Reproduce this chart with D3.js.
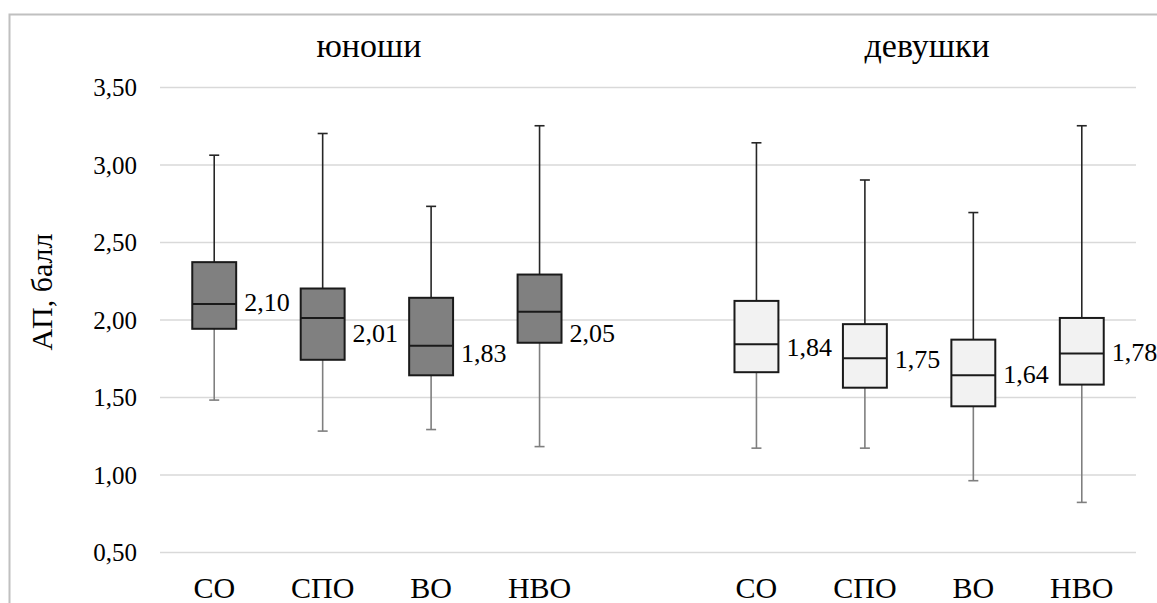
<!doctype html>
<html>
<head>
  <meta charset="utf-8">
  <script src="https://d3js.org/d3.v7.min.js"></script>
</head>
<body style="margin:0">
<script>
  // data
  var groups = ["юноши", "девушки"];
  var levels = ["СО", "СПО", "ВО", "НВО"];
  var yTicks = [0.5, 1.0, 1.5, 2.0, 2.5, 3.0, 3.5];

  var boysMax = [3.06, 3.20, 2.73, 3.25];
  var boysQ3  = [2.37, 2.20, 2.14, 2.29];
  var boysMed = [2.10, 2.01, 1.83, 2.05];
  var boysQ1  = [1.94, 1.74, 1.64, 1.85];
  var boysMin = [1.48, 1.28, 1.29, 1.18];
  var boysLabelAt = [2.11, 1.91, 1.78, 1.91];

  var girlsMax = [3.14, 2.90, 2.69, 3.25];
  var girlsQ3  = [2.12, 1.97, 1.87, 2.01];
  var girlsMed = [1.84, 1.75, 1.64, 1.78];
  var girlsQ1  = [1.66, 1.56, 1.44, 1.58];
  var girlsMin = [1.17, 1.17, 0.96, 0.82];
  var girlsLabelAt = [1.82, 1.745, 1.65, 1.79];

  var fills = ["#808080", "#f2f2f2"];
  var fam = "'Liberation Serif', 'Times New Roman', serif";

  var svg = d3.select("body")
    .append("svg")
    .attr("width", 1157)
    .attr("height", 603)
    .style("font-family", fam);

  // outer frame (right and bottom edges fall outside the picture)
  svg.append("rect")
    .attr("x", 9.5).attr("y", 14.5)
    .attr("width", 1160).attr("height", 600)
    .attr("fill", "none")
    .attr("stroke", "#c0c0c0")
    .attr("stroke-width", 2);

  var rows = [];
  var sets = [
    [boysMax, boysQ3, boysMed, boysQ1, boysMin, boysLabelAt],
    [girlsMax, girlsQ3, girlsMed, girlsQ1, girlsMin, girlsLabelAt]
  ];
  groups.forEach(function(g, gi) {
    levels.forEach(function(l, li) {
      var s = sets[gi];
      rows.push({ key: g + "|" + l, group: gi, level: l,
        max: s[0][li], q3: s[1][li], med: s[2][li], q1: s[3][li], min: s[4][li], lab: s[5][li] });
    });
  });

  // 9 slots: four boxes, an empty gap, four boxes
  var slots = levels.map(function(l) { return groups[0] + "|" + l; })
    .concat(["gap"])
    .concat(levels.map(function(l) { return groups[1] + "|" + l; }));

  var x = d3.scaleBand().domain(slots).range([160, 1136]);
  var y = d3.scaleLinear().domain([0.5, 3.5]).range([552, 87]);

  var ru = d3.formatLocale({ decimal: ",", thousands: " ", grouping: [3], currency: ["", ""] });
  var fmt = ru.format(".2f");

  var grid = svg.append("g")
    .attr("transform", "translate(160,0)")
    .call(d3.axisLeft(y).tickValues(yTicks).tickFormat(fmt)
      .tickSize(-976).tickPadding(23));
  grid.select(".domain").remove();
  grid.attr("font-family", null).attr("font-size", null);
  grid.selectAll("line").attr("stroke", "#d9d9d9").attr("stroke-width", 1.3);
  grid.selectAll("text")
    .style("font-family", fam)
    .style("font-size", "25px")
    .attr("fill", "#000")
    .attr("dy", "0.34em");

  var boxW = x.bandwidth() * 0.405;

  var box = svg.selectAll(".box")
    .data(rows)
    .enter().append("g")
    .attr("transform", function(d) { return "translate(" + (x(d.key) + x.bandwidth() / 2) + ",0)"; });

  // upper whisker
  box.append("line")
    .attr("x1", 0).attr("x2", 0)
    .attr("y1", function(d) { return y(d.max); })
    .attr("y2", function(d) { return y(d.q3); })
    .attr("stroke", "#262626").attr("stroke-width", 1.6);
  box.append("line")
    .attr("x1", -5).attr("x2", 5)
    .attr("y1", function(d) { return y(d.max); })
    .attr("y2", function(d) { return y(d.max); })
    .attr("stroke", "#262626").attr("stroke-width", 1.6);

  // lower whisker
  box.append("line")
    .attr("x1", 0).attr("x2", 0)
    .attr("y1", function(d) { return y(d.q1); })
    .attr("y2", function(d) { return y(d.min); })
    .attr("stroke", "#7f7f7f").attr("stroke-width", 1.6);
  box.append("line")
    .attr("x1", -5).attr("x2", 5)
    .attr("y1", function(d) { return y(d.min); })
    .attr("y2", function(d) { return y(d.min); })
    .attr("stroke", "#7f7f7f").attr("stroke-width", 1.6);

  box.append("rect")
    .attr("x", -boxW / 2)
    .attr("width", boxW)
    .attr("y", function(d) { return y(d.q3); })
    .attr("height", function(d) { return y(d.q1) - y(d.q3); })
    .attr("fill", function(d) { return fills[d.group]; })
    .attr("stroke", "#1a1a1a")
    .attr("stroke-width", 2);

  box.append("line")
    .attr("x1", -boxW / 2).attr("x2", boxW / 2)
    .attr("y1", function(d) { return y(d.med); })
    .attr("y2", function(d) { return y(d.med); })
    .attr("stroke", "#1a1a1a").attr("stroke-width", 2);

  box.append("text")
    .attr("x", boxW / 2 + 8)
    .attr("y", function(d) { return y(d.lab); })
    .attr("dy", "0.34em")
    .style("font-family", fam)
    .style("font-size", "26px")
    .text(function(d) { return fmt(d.med); });

  // category labels
  svg.selectAll(".cat")
    .data(rows)
    .enter().append("text")
    .attr("x", function(d) { return x(d.key) + x.bandwidth() / 2; })
    .attr("y", 598)
    .attr("text-anchor", "middle")
    .style("font-family", fam)
    .style("font-size", "30px")
    .text(function(d) { return d.level; });

  // group titles
  svg.selectAll(".title")
    .data(groups)
    .enter().append("text")
    .attr("x", function(g, i) {
      var a = x(g + "|" + levels[0]), b = x(g + "|" + levels[3]) + x.bandwidth();
      return (a + b) / 2 + (i === 0 ? -8 : 8);
    })
    .attr("y", 57)
    .attr("text-anchor", "middle")
    .style("font-family", fam)
    .style("font-size", "34px")
    .text(function(g) { return g; });

  svg.append("text")
    .attr("transform", "translate(52,292) rotate(-90)")
    .attr("text-anchor", "middle")
    .style("font-family", fam)
    .style("font-size", "30px")
    .text("АП, балл");
</script>
</body>
</html>
